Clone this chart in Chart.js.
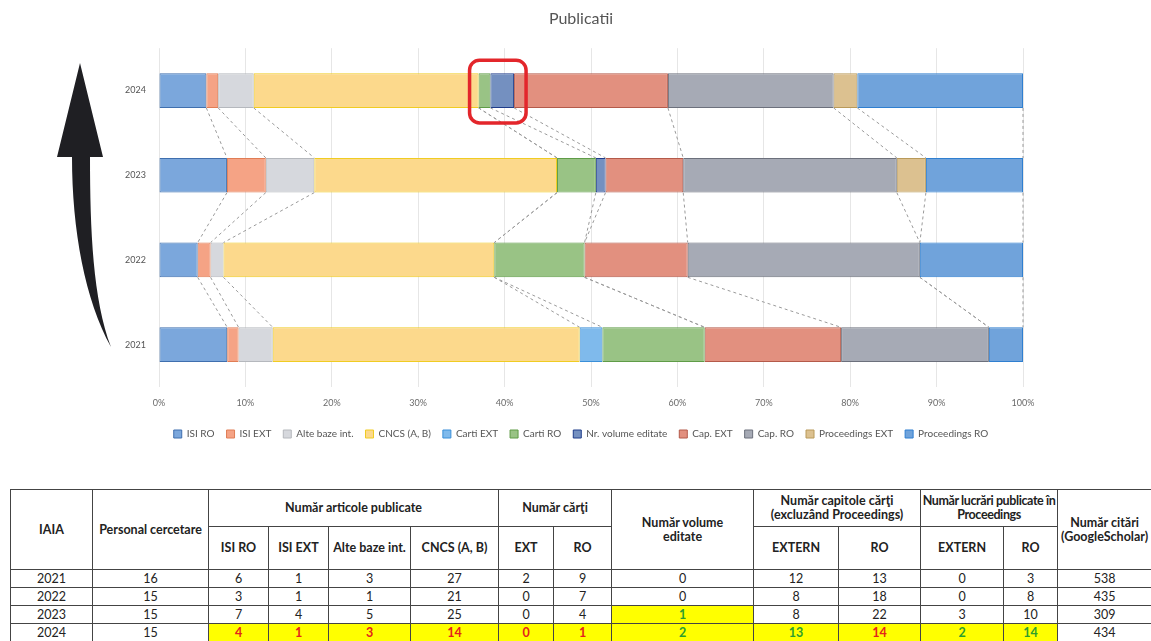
<!DOCTYPE html>
<html>
<head>
<meta charset="utf-8">
<script src="https://cdn.jsdelivr.net/npm/chart.js@4.4.1/dist/chart.umd.min.js"></script>
<style>
    body { margin: 0; width: 1151px; height: 641px; overflow: hidden; background: #fff; font-family: Lato, 'Open Sans', sans-serif; }
    #wrap { position: absolute; left: 0; top: 0; width: 1151px; height: 452px; }
    table { position: absolute; left: 10px; top: 489px; border-collapse: collapse; table-layout: fixed; width: 1141px; color: #222; font-size: 12.5px; }
    td, th { border: 1px solid #444; padding: 0; text-align: center; vertical-align: middle; line-height: 14px; white-space: nowrap; }
    th { font-weight: bold; }
    td { font-weight: normal; }
    .strans { letter-spacing: -0.4px; }
    .gal { background: #ffff00; font-weight: bold; }
    .rosu { color: #e3231c; }
    .verde { color: #2e9e2e; }
</style>
</head>
<body>
<div id="wrap"><canvas id="myChart"></canvas></div>
<table id="tabel"></table>
<script>
// date grafic (numar publicatii pe ani)
let ani = ['2021', '2022', '2023', '2024'];
let isiRo = [6, 3, 7, 4];
let isiExt = [1, 1, 4, 1];
let alteBaze = [3, 1, 5, 3];
let cncs = [27, 21, 25, 19];
let cartiExt = [2, 0, 0, 0];
let cartiRo = [9, 7, 4, 1];
let volume = [0, 0, 1, 2];
let capExt = [12, 8, 8, 13];
let capRo = [13, 18, 22, 14];
let procExt = [0, 0, 3, 2];
let procRo = [3, 8, 10, 14];
let procente = [0, 10, 20, 30, 40, 50, 60, 70, 80, 90, 100];

// date tabel
let personal = [16, 15, 15, 15];
let cncsTabel = [27, 21, 25, 14];
let citari = [538, 435, 309, 434];

let serii = [
    ['ISI RO', isiRo, '#7ba7dc', '#3f6fae'],
    ['ISI EXT', isiExt, '#f5a385', '#e07d55'],
    ['Alte baze int.', alteBaze, '#d6d8dd', '#b5b8bd'],
    ['CNCS (A, B)', cncs, '#fcd98c', '#f0cc22'],
    ['Carti EXT', cartiExt, '#7fbaec', '#3a8fd8'],
    ['Carti RO', cartiRo, '#99c385', '#5f9c47'],
    ['Nr. volume editate', volume, '#7490c0', '#1f3c8a'],
    ['Cap. EXT', capExt, '#e2907f', '#b45a4a'],
    ['Cap. RO', capRo, '#a6aab5', '#6c707c'],
    ['Proceedings EXT', procExt, '#dcc190', '#b99a5a'],
    ['Proceedings RO', procRo, '#70a3db', '#2f7fd0']
];

let totaluri = ani.map((a, i) => serii.reduce((s, x) => s + x[1][i], 0));

let datasets = serii.map(s => ({
    label: s[0],
    data: s[1].map((v, i) => v / totaluri[i] * 100),
    backgroundColor: s[2],
    borderColor: s[3],
    borderWidth: 1,
    borderSkipped: false,
    barPercentage: 0.82,
    categoryPercentage: 0.5
}));

// linii punctate intre bare + sageata + chenar rosu
const desene = {
    id: 'desene',
    afterDatasetsDraw(chart) {
        let c = chart.ctx;
        c.save();
        c.strokeStyle = '#9a9a9a';
        c.lineWidth = 1;
        c.setLineDash([3, 3]);
        for (let i = ani.length - 1; i > 0; i--) {
            chart.data.datasets.forEach((d, k) => {
                let sus = chart.getDatasetMeta(k).data[i];
                let jos = chart.getDatasetMeta(k).data[i - 1];
                c.beginPath();
                c.moveTo(sus.x, sus.y + sus.height / 2);
                c.lineTo(jos.x, jos.y - jos.height / 2);
                c.stroke();
            });
        }
        c.setLineDash([]);

        // chenar rosu in jurul segmentelor mici din 2024
        let a = chart.getDatasetMeta(3).data[3];
        let b = chart.getDatasetMeta(6).data[3];
        let x1 = a.x - 9, x2 = b.x + 12;
        let y1 = a.y - a.height / 2 - 13, y2 = a.y + a.height / 2 + 15;
        c.strokeStyle = '#e3262b';
        c.lineWidth = 3.5;
        c.beginPath();
        c.roundRect(x1, y1, x2 - x1, y2 - y1, 10);
        c.stroke();

        // sageata
        c.fillStyle = '#1f1f23';
        c.beginPath();
        c.moveTo(80, 63);
        c.lineTo(103, 157);
        c.lineTo(90, 157);
        c.bezierCurveTo(90, 230, 93, 300, 111, 347);
        c.bezierCurveTo(85, 300, 72, 230, 72, 157);
        c.lineTo(57, 157);
        c.closePath();
        c.fill();
        c.restore();
    }
};

let ctx = document.getElementById('myChart').getContext('2d');
let grafic = new Chart(ctx, {
    type: 'bar',
    data: { labels: ani, datasets: datasets },
    options: {
        indexAxis: 'y',
        responsive: true,
        maintainAspectRatio: false,
        animation: false,
        layout: { padding: { left: 123, right: 112, top: 4, bottom: 3 } },
        scales: {
            x: {
                stacked: true,
                min: 0,
                max: 100,
                afterBuildTicks: ax => { ax.ticks = procente.map(v => ({ value: v })); },
                afterFit: ax => { ax.height = 30; },
                ticks: {
                    color: '#6a6a6a',
                    padding: 11,
                    font: { family: 'Lato', size: 9 },
                    callback: v => v + '%'
                },
                grid: { color: '#e6e6e6', drawTicks: false },
                border: { display: false }
            },
            y: {
                stacked: true,
                reverse: true,
                afterFit: ax => { ax.width = 36; },
                ticks: {
                    color: '#555',
                    padding: 13,
                    font: { family: 'Lato', size: 9 }
                },
                grid: { display: false, drawTicks: false },
                border: { display: false }
            },
            // axa goala in dreapta, doar ca sa centreze titlul si legenda
            dreapta: {
                type: 'category',
                position: 'right',
                afterFit: ax => { ax.width = 16; },
                ticks: { display: false },
                grid: { display: false, drawTicks: false },
                border: { display: false }
            }
        },
        plugins: {
            legend: {
                position: 'bottom',
                labels: {
                    boxWidth: 8,
                    boxHeight: 8,
                    padding: 12,
                    color: '#555',
                    font: { family: 'Lato', size: 10 }
                }
            },
            title: {
                display: true,
                text: 'Publicatii',
                color: '#555',
                font: { family: 'Lato', size: 16, weight: 'normal' },
                padding: { top: 5, bottom: 20 }
            },
            tooltip: { enabled: false }
        }
    },
    plugins: [desene]
});

// tabelul de sub grafic
let latimi = [82, 116, 60, 60, 82, 88, 55, 58, 142, 85, 82, 83, 54, 94];
let html = '<colgroup>' + latimi.map(w => '<col style="width:' + w + 'px">').join('') + '</colgroup>';
html += '<tr style="height:37px"><th rowspan="2">IAIA</th><th rowspan="2">Personal cercetare</th>' +
    '<th colspan="4">Număr articole publicate</th><th colspan="2">Număr cărţi</th>' +
    '<th rowspan="2">Număr volume<br>editate</th><th colspan="2">Număr capitole cărţi<br>(excluzând Proceedings)</th>' +
    '<th colspan="2" class="strans">Număr lucrări publicate în<br>Proceedings</th><th rowspan="2">Număr citări<br>(GoogleScholar)</th></tr>';
html += '<tr style="height:43px"><th>ISI RO</th><th>ISI EXT</th><th>Alte baze int.</th><th>CNCS (A, B)</th>' +
    '<th>EXT</th><th>RO</th><th>EXTERN</th><th>RO</th><th>EXTERN</th><th>RO</th></tr>';

// clase pentru celulele evidentiate
let marcaj = {
    '2023': { 8: 'gal verde' },
    '2024': { 2: 'gal rosu', 3: 'gal rosu', 4: 'gal rosu', 5: 'gal rosu', 6: 'gal rosu', 7: 'gal rosu',
              8: 'gal verde', 9: 'gal verde', 10: 'gal rosu', 11: 'gal verde', 12: 'gal verde' }
};
ani.forEach((an, i) => {
    let rand = [an, personal[i], isiRo[i], isiExt[i], alteBaze[i], cncsTabel[i], cartiExt[i], cartiRo[i],
        volume[i], capExt[i], capRo[i], procExt[i], procRo[i], citari[i]];
    html += '<tr style="height:18px">' + rand.map((v, j) => {
        let cls = marcaj[an] && marcaj[an][j] ? ' class="' + marcaj[an][j] + '"' : '';
        return '<td' + cls + '>' + v + '</td>';
    }).join('') + '</tr>';
});
document.getElementById('tabel').innerHTML = html;
</script>
</body>
</html>
